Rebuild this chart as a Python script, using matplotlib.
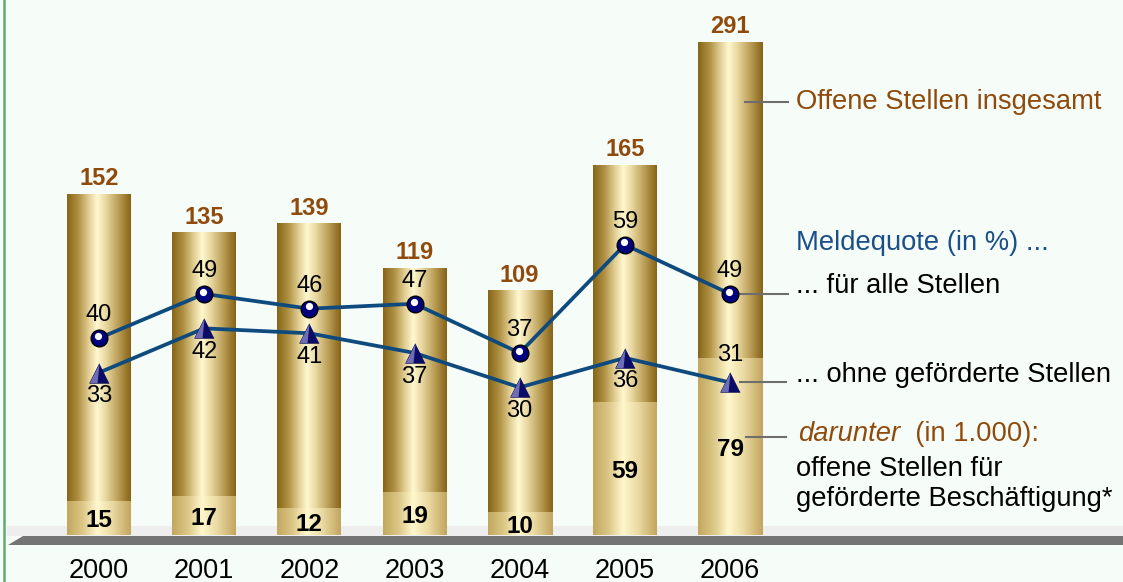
import numpy as np
import matplotlib
matplotlib.use("Agg")
import matplotlib.pyplot as plt
from matplotlib.colors import LinearSegmentedColormap
from matplotlib.patches import Polygon, Rectangle
from matplotlib.lines import Line2D
from matplotlib.transforms import Affine2D, ScaledTranslation, blended_transform_factory

# --- data -------------------------------------------------------------
years = ["2000", "2001", "2002", "2003", "2004", "2005", "2006"]
offene_gesamt = [152, 135, 139, 119, 109, 165, 291]      # in 1.000
gefoerderte = [15, 17, 12, 19, 10, 59, 79]               # in 1.000
quote_alle = [40, 49, 46, 47, 37, 59, 49]                # %
quote_ohne = [33, 42, 41, 37, 30, 36, 31]                # %

# --- layout (pixels of the 1123x582 picture) --------------------------
W, H = 1123, 582
BASE = 535          # floor line, px from top
PPU = 2.24          # px per 1.000 vacancies
PPP = 4.92          # px per percent point
X0, DX = 99, 105.17
BAR_W = 64 / DX
BAR_CAP = 220       # 2006 bar is drawn shortened (broken bar)

BG = "#F6FCF8"
BROWN = "#8F4A0C"
BLUE_TXT = "#1B4F8A"
LINE_C = "#0E4A7E"
GREY = "#6E6E6E"
FONT = "Liberation Sans"

plt.rcParams["font.family"] = [FONT, "DejaVu Sans"]

fig = plt.figure(figsize=(W / 100, H / 100), dpi=100)
fig.patch.set_facecolor(BG)
PX = Affine2D().scale(1 / W, -1 / H).translate(0, 1) + fig.transFigure

ax = fig.add_axes([0, 0, 1, 1])
ax.set_facecolor(BG)
ax.axis("off")
ax.set_autoscale_on(False)
ax.set_xlim(-X0 / DX, (W - X0) / DX)
ax.set_ylim(-(H - BASE) / PPU, BASE / PPU)

ax2 = ax.twinx()
ax2.axis("off")
ax2.set_ylim(-(H - BASE) / PPP, BASE / PPP)

# --- floor ------------------------------------------------------------
ax.add_patch(Rectangle((7, 526), W - 7, 10, transform=PX, facecolor="#EEEEEE",
                       edgecolor="none", zorder=1))
ax.add_patch(Polygon([(23, 536), (W, 536), (W, 545), (8, 545)], closed=True,
                     transform=PX, facecolor="#747474", edgecolor="none", zorder=1))
fig.add_artist(Line2D([4, 4], [0, H], transform=PX, color="#5DAE6E", lw=1.8))

# --- bars with cylinder gradient --------------------------------------
cm_top = LinearSegmentedColormap.from_list("top", [
    (0.0, "#876518"), (0.18, "#B09244"), (0.34, "#E1CE93"), (0.47, "#FFF8D0"),
    (0.6, "#EADAA3"), (0.8, "#BC9F58"), (1.0, "#866316")])
cm_low = LinearSegmentedColormap.from_list("low", [
    (0.0, "#C3A75E"), (0.25, "#DCC888"), (0.47, "#FFF7CC"),
    (0.7, "#EBDBA4"), (1.0, "#C2A55E")])
grad = np.linspace(0, 1, 256).reshape(1, -1)

x = np.arange(len(years))
shown = np.minimum(offene_gesamt, BAR_CAP)
top_bars = ax.bar(x, shown, BAR_W, color="none", zorder=2)
low_bars = ax.bar(x, gefoerderte, BAR_W, color="none", zorder=2)

for rect, cmap, z in [(r, cm_top, 2) for r in top_bars] + [(r, cm_low, 2.5) for r in low_bars]:
    x0, w, h = rect.get_x(), rect.get_width(), rect.get_height()
    ax.imshow(grad, cmap=cmap, extent=(x0, x0 + w, 0, h), aspect="auto",
              interpolation="bilinear", zorder=z)

for xi, h, v in zip(x, shown, offene_gesamt):
    ax.annotate(str(v), (xi, h), xytext=(0, 6.5), textcoords="offset points",
                ha="center", va="baseline", fontsize=17, fontweight="bold",
                color=BROWN, zorder=6)
for xi, g in zip(x, gefoerderte):
    ax.text(xi, g / 2, str(g), ha="center", va="center_baseline", fontsize=17.5,
            fontweight="bold", color="black", zorder=6)

# --- Meldequote lines -------------------------------------------------
ax2.plot(x, quote_alle, color=LINE_C, lw=2.7, zorder=4)
ax2.plot(x, quote_ohne, color=LINE_C, lw=2.7, zorder=4)

ax2.plot(x, quote_alle, ls="none", marker="o", ms=12, mfc="#00007E",
         mec="black", mew=1.0, zorder=5)
hl = ax2.transData + ScaledTranslation(-0.5 / 72, 1.6 / 72, fig.dpi_scale_trans)
ax2.plot(x, quote_alle, ls="none", marker="o", ms=5.2, mfc="white",
         mec="none", transform=hl, zorder=5.5)

tri = [(0, 1), (-1, -1), (1, -1)]
tri_left = [(0, 1), (-1, -1), (-0.2, -1)]
ax2.plot(x, quote_ohne, ls="none", marker=tri, ms=14, mfc="#0C0C66",
         mec="#08084A", mew=0.6, zorder=5)
ax2.plot(x, quote_ohne, ls="none", marker=tri_left, ms=14, mfc="#6E6EB6",
         mec="none", zorder=5.5)

ohne_above = [False, False, False, False, False, False, True]
for xi, v in zip(x, quote_alle):
    ax2.annotate(str(v), (xi, v), xytext=(0, 16.5), textcoords="offset points",
                 ha="center", va="center", fontsize=17, color="black", zorder=6)
for xi, v, up in zip(x, quote_ohne, ohne_above):
    ax2.annotate(str(v), (xi, v), xytext=(0, 20 if up else -17), textcoords="offset points",
                 ha="center", va="center", fontsize=17, color="black", zorder=6)

# --- year labels ------------------------------------------------------
for xi, yr in zip(x, years):
    ax.text(xi, -(578 - BASE) / PPU, yr, ha="center", va="baseline",
            fontsize=19.5, color="black")

# --- callouts and right-hand legend text ------------------------------
bl2 = blended_transform_factory(PX, ax2.transData)
ax.add_line(Line2D([745, 788], [102, 102], transform=PX, color=GREY, lw=1.5, zorder=3))
ax.add_line(Line2D([738, 788], [quote_alle[-1]] * 2, transform=bl2, color=GREY, lw=1.5, zorder=3))
ax.add_line(Line2D([740, 786], [quote_ohne[-1]] * 2, transform=bl2, color=GREY, lw=1.5, zorder=3))
ax.add_line(Line2D([746, 786], [437, 437], transform=PX, color=GREY, lw=1.5, zorder=3))

def label(y, s, color="black", style="normal"):
    fig.text(796 / W, 1 - y / H, s, ha="left", va="baseline", fontsize=19.7,
             color=color, style=style)

label(109, "Offene Stellen insgesamt", BROWN)
label(250, "Meldequote (in %) ...", BLUE_TXT)
label(293, "... für alle Stellen")
label(382, "... ohne geförderte Stellen")
t = fig.text(798 / W, 1 - 441 / H, "darunter", ha="left", va="baseline",
             fontsize=19.7, color=BROWN, style="italic")
fig.canvas.draw()
bb = t.get_window_extent()
fig.text(bb.x1 / W, 1 - 441 / H, "  (in 1.000):", ha="left", va="baseline",
         fontsize=19.7, color=BROWN)
label(476, "offene Stellen für")
label(506, "geförderte Beschäftigung*")

fig.savefig("out.png", dpi=100, facecolor=BG)
